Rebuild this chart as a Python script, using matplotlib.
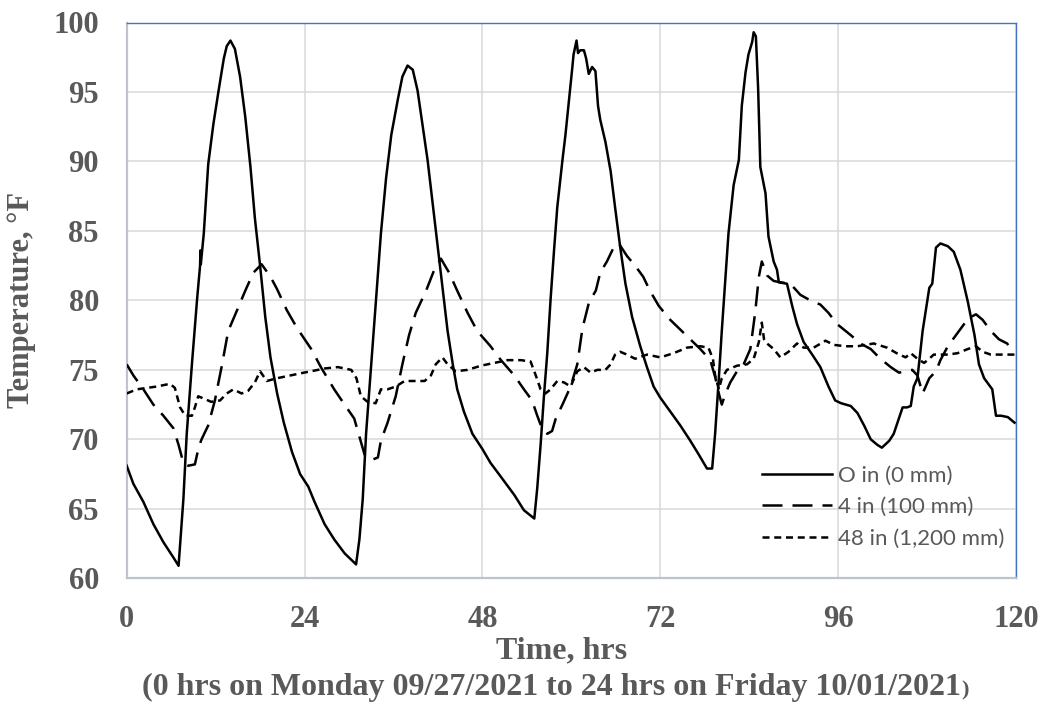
import matplotlib
matplotlib.use("Agg")
import matplotlib.pyplot as plt
import numpy as np

# ---- data (hours, deg F) ----
t_0in = [0, 0.9, 2.25, 3.6, 4.95, 6.3, 7.0, 7.65, 8.1, 8.8, 9.5, 9.9, 9.95, 10.0, 10.4, 11.0,
         11.7, 12.4, 13.1, 13.5, 14.0, 14.6, 15.3, 16.0, 16.7, 17.3, 18.0, 18.7, 19.4, 20.3,
         21.2, 22.3, 23.4, 24.5, 25.35, 26.7, 28.0, 29.4, 30.95, 31.4, 31.85, 32.3, 33.0,
         33.65, 34.3, 35.0, 35.7, 36.6, 37.2, 37.9, 38.6, 39.25, 39.9, 40.6, 41.3, 41.9, 42.6,
         43.3, 44.0, 44.6, 45.5, 46.65, 48.0, 49.1, 50.5, 52.3, 53.6, 55.0, 55.4, 55.85, 56.3,
         56.75, 57.2, 57.65, 58.1, 58.8, 59.2, 59.7, 60.1, 60.3, 60.7, 60.9, 61.2, 61.7, 62.0,
         62.35, 62.8, 63.25, 63.6, 63.9, 64.6, 65.3, 65.9, 66.6, 67.3, 68.2, 69.3, 70.2, 71.1,
         72.0, 73.35, 74.7, 76.05, 77.2, 78.3, 79.0, 79.4, 79.9, 80.3, 80.8, 81.2, 81.9, 82.6,
         83.0, 83.5, 83.9, 84.4, 84.6, 84.9, 85.2, 85.5, 86.2, 86.6, 87.3, 87.75, 88.0, 89.1,
         89.8, 90.45, 91.35, 92.5, 93.6, 94.7, 95.6, 96.4, 97.7, 98.6, 99.5, 100.4, 101.3,
         101.9, 102.9, 103.5, 104.2, 104.7, 105.3, 105.8, 106.2, 106.7, 107.4, 108.3, 108.7,
         109.2, 109.8, 110.8, 111.6, 112.5, 113.5, 114.4, 115.0, 115.7, 116.8, 117.3, 118.0,
         118.9, 119.8]
T_0in = [68.1, 66.8, 65.5, 63.9, 62.6, 61.5, 60.9, 65.7, 70.4, 75.4, 80.1, 82.5, 83.6, 82.6,
         84.8, 89.8, 92.7, 95.1, 97.4, 98.3, 98.7, 98.1, 96.1, 93.2, 89.6, 85.9, 82.5, 78.8,
         75.9, 73.3, 71.2, 69.1, 67.5, 66.6, 65.5, 63.9, 62.8, 61.8, 61.0, 62.8, 65.7, 70.4,
         75.4, 80.1, 84.8, 88.8, 91.9, 94.5, 96.1, 96.9, 96.6, 95.1, 92.7, 90.1, 86.9, 84.1,
         80.9, 77.8, 75.4, 73.6, 72.0, 70.4, 69.3, 68.3, 67.3, 66.0, 64.9, 64.3, 66.5, 69.6,
         73.1, 76.2, 80.1, 83.5, 86.7, 90.1, 91.9, 94.5, 96.6, 97.7, 98.7, 97.8, 98.0, 98.0,
         97.4, 96.3, 96.8, 96.5, 94.0, 93.0, 91.4, 89.3, 86.7, 83.8, 81.2, 78.8, 76.7, 75.2,
         73.8, 73.0, 72.0, 71.0, 69.9, 68.9, 67.9, 67.9, 70.4, 74.4, 77.8, 81.7, 84.8, 88.3,
         90.1, 94.0, 96.4, 97.7, 98.6, 99.3, 99.0, 95.3, 89.6, 87.7, 84.6, 82.8, 82.2, 81.3,
         81.2, 79.6, 78.3, 77.0, 76.1, 75.2, 73.8, 72.8, 72.6, 72.4, 71.9, 71.0, 70.0, 69.6,
         69.4, 69.9, 70.4, 71.5, 72.3, 72.3, 72.4, 73.8, 74.4, 77.8, 80.9, 81.2, 83.8, 84.1,
         83.9, 83.5, 82.2, 79.9, 77.5, 75.4, 74.4, 73.6, 71.7, 71.7, 71.6, 71.2]

t_4in = [0, 0.9, 2.25, 3.6, 4.95, 6.3, 7.0, 7.65, 8.3, 9.2, 9.7, 10.1, 11.0, 11.9, 12.8, 13.7,
         14.9, 16.0, 17.1, 18.2, 19.4, 20.3, 21.6, 23.0, 24.9, 26.2, 28.0, 29.4, 30.7, 31.4,
         32.1, 33.0, 33.9, 34.3, 35.2, 36.3, 37.2, 38.1, 39.0, 40.4, 41.5, 42.4, 43.5, 44.6,
         46.0, 47.3, 49.1, 50.5, 52.3, 53.6, 54.7, 55.4, 56.1, 56.75, 57.4, 57.9, 58.8, 59.9,
         60.8, 61.5, 62.4, 63.3, 63.9, 64.8, 65.7, 66.4, 67.5, 68.6, 69.7, 70.6, 71.8, 73.35,
         74.7, 76.05, 77.4, 78.75, 79.4, 79.9, 80.3, 80.8, 81.45, 82.35, 83.25, 84.15, 84.8,
         85.3, 85.7, 86.4, 87.3, 88.2, 89.55, 90.9, 92.25, 93.6, 94.7, 95.85, 97.7, 99.0,
         100.4, 101.7, 103.1, 104.2, 105.1, 106.0, 106.7, 107.4, 108.3, 109.2, 109.8, 110.8,
         111.9, 113.0, 113.9, 114.6, 115.5, 116.6, 117.7, 118.8, 119.7]
T_4in = [75.4, 74.6, 73.6, 72.5, 71.7, 70.8, 69.6, 68.3, 68.1, 68.2, 69.4, 70.0, 71.0, 72.8,
         75.2, 77.8, 79.3, 80.7, 82.0, 82.6, 81.7, 80.8, 79.3, 78.0, 76.5, 75.2, 73.6, 72.5,
         71.5, 70.2, 68.9, 68.5, 68.7, 69.9, 71.2, 73.1, 75.4, 77.5, 79.1, 80.7, 82.2, 83.0,
         82.0, 80.7, 79.1, 77.8, 76.7, 75.7, 74.6, 73.6, 72.8, 71.7, 70.7, 70.4, 70.6, 71.5,
         72.5, 73.8, 75.4, 78.0, 79.9, 80.7, 82.0, 82.8, 83.8, 84.1, 83.2, 82.5, 81.7, 80.7,
         79.6, 78.6, 77.9, 77.2, 76.5, 75.7, 74.5, 73.3, 72.5, 73.3, 74.1, 74.9, 75.4, 76.5,
         79.1, 81.7, 82.8, 81.8, 81.4, 81.3, 81.2, 80.4, 80.0, 79.7, 79.1, 78.3, 77.5, 76.9,
         76.5, 75.8, 75.2, 74.8, 74.9, 75.0, 74.6, 73.3, 74.4, 74.9, 75.7, 76.7, 77.5, 78.3,
         78.8, 79.0, 78.6, 77.8, 77.2, 76.9, 76.2]

t_48in = [0, 1.35, 2.7, 4.05, 5.85, 6.5, 7.2, 7.9, 8.8, 9.2, 9.65, 10.55, 11.4, 12.6, 13.5,
          14.4, 15.5, 16.4, 17.3, 18.0, 18.9, 20.3, 22.1, 23.9, 24.9, 26.7, 28.5, 30.3, 31.0,
          31.6, 32.5, 33.6, 34.3, 35.2, 36.3, 37.5, 38.8, 40.2, 41.05, 41.7, 42.6, 43.3, 44.4,
          46.0, 47.8, 49.6, 51.4, 53.2, 54.5, 55.2, 55.85, 56.5, 57.2, 58.1, 59.0, 59.9, 60.8,
          61.7, 62.6, 63.5, 64.6, 65.3, 65.9, 66.6, 67.5, 68.6, 70.2, 72.0, 73.8, 75.6, 77.4,
          78.5, 79.1, 79.4, 79.9, 80.3, 81.0, 82.35, 83.7, 84.6, 85.3, 85.7, 86.0, 86.4, 87.3,
          88.2, 89.3, 90.45, 91.35, 92.7, 94.3, 95.4, 97.0, 98.6, 100.8, 102.6, 103.9, 105.1,
          105.8, 106.7, 107.6, 108.3, 108.9, 110.8, 112.1, 113.5, 114.6, 115.5, 116.6, 118.0,
          119.8]
T_48in = [73.3, 73.6, 73.7, 73.8, 74.0, 73.7, 72.3, 71.7, 71.7, 72.3, 73.1, 72.9, 72.7, 72.8,
          73.3, 73.6, 73.3, 73.5, 74.1, 74.9, 74.2, 74.4, 74.6, 74.8, 74.9, 75.1, 75.2, 75.0,
          74.4, 73.1, 72.7, 72.6, 73.6, 73.6, 73.8, 74.2, 74.2, 74.2, 74.6, 75.4, 75.9, 75.4,
          74.9, 75.0, 75.3, 75.5, 75.7, 75.7, 75.6, 74.6, 73.6, 73.3, 73.6, 74.2, 74.1, 73.8,
          74.9, 75.2, 74.8, 75.0, 75.0, 75.4, 76.1, 76.3, 76.1, 75.8, 76.1, 75.9, 76.2, 76.6,
          76.7, 76.6, 75.8, 74.6, 73.6, 74.4, 75.0, 75.3, 75.4, 75.8, 77.0, 78.4, 77.2, 76.9,
          76.5, 75.9, 76.3, 76.9, 76.6, 76.6, 77.1, 76.8, 76.7, 76.7, 76.9, 76.6, 76.2, 75.9,
          76.2, 75.8, 75.5, 75.8, 76.1, 76.1, 76.2, 76.5, 76.7, 76.3, 76.1, 76.1, 76.1]

series_labels = ["O in (0 mm)", "4 in (100 mm)", "48 in (1,200 mm)"]
x_ticks = [0, 24, 48, 72, 96, 120]
y_ticks = [60, 65, 70, 75, 80, 85, 90, 95, 100]

# ---- figure ----
W, H = 1042, 702
fig = plt.figure(figsize=(W / 100, H / 100), dpi=100)
ax = fig.add_axes([126.7 / W, 1 - 578.3 / H, (1016 - 126.7) / W, (578.3 - 22.5) / H])

lw = 1.8
ax.plot(t_0in, T_0in, color="black", lw=lw, solid_joinstyle="round", label=series_labels[0], zorder=3)
ax.plot(t_4in, T_4in, color="black", lw=lw, linestyle=(0, (8, 4)), label=series_labels[1], zorder=3)
ax.plot(t_48in, T_48in, color="black", lw=lw, linestyle=(0, (2.8, 1.9)), label=series_labels[2], zorder=3)

ax.set_xlim(0, 120)
ax.set_ylim(60, 100)
ax.set_xticks(x_ticks)
ax.set_yticks(y_ticks)
ax.grid(True, color="#d9d9d9", lw=1.1, zorder=0)
ax.set_axisbelow(True)

for side in ["left", "bottom"]:
    ax.spines[side].set_color("#bfc3cc")
    ax.spines[side].set_linewidth(1.6)
for side in ["top", "right"]:
    ax.spines[side].set_color("#4472c4")
    ax.spines[side].set_linewidth(1.0)

serif = ["Liberation Serif", "DejaVu Serif"]
tick_color = "#595959"
ax.tick_params(axis="both", length=0, colors=tick_color)
ax.tick_params(axis="x", pad=19)
ax.tick_params(axis="y", pad=20)
for lab in ax.get_xticklabels() + ax.get_yticklabels():
    lab.set_fontfamily(serif)
    lab.set_fontweight("bold")
    lab.set_fontsize(22)
    lab.set_color(tick_color)

fig.text(22 / W, 1 - 300 / H, "Temperature, °F", rotation=90, ha="center", va="center",
         fontsize=22, fontweight="bold", family=serif, color=tick_color)
fig.text(562 / W, 1 - 658 / H, "Time, hrs", ha="center", va="baseline",
         fontsize=23, fontweight="bold", family=serif, color=tick_color)
sub = fig.text(141.5 / W, 1 - 695 / H,
               "(0 hrs on Monday 09/27/2021 to 24 hrs on Friday 10/01/2021",
               ha="left", va="baseline", fontsize=23, fontweight="bold", family=serif,
               color=tick_color)

leg = ax.legend(loc="center left", bbox_to_anchor=(0.714, 0.128), frameon=False,
                prop={"family": "Lato", "size": 16}, handlelength=3.15, handletextpad=0.27,
                labelspacing=0.52, borderpad=0, borderaxespad=0)
for txt in leg.get_texts():
    txt.set_color(tick_color)

fig.canvas.draw()
bb = sub.get_window_extent()
fig.text((bb.x1 + 1) / W, 1 - 695 / H, ")", ha="left", va="baseline", fontsize=16,
         fontweight="bold", family=serif, color=tick_color)

fig.savefig("out.png", dpi=100)
